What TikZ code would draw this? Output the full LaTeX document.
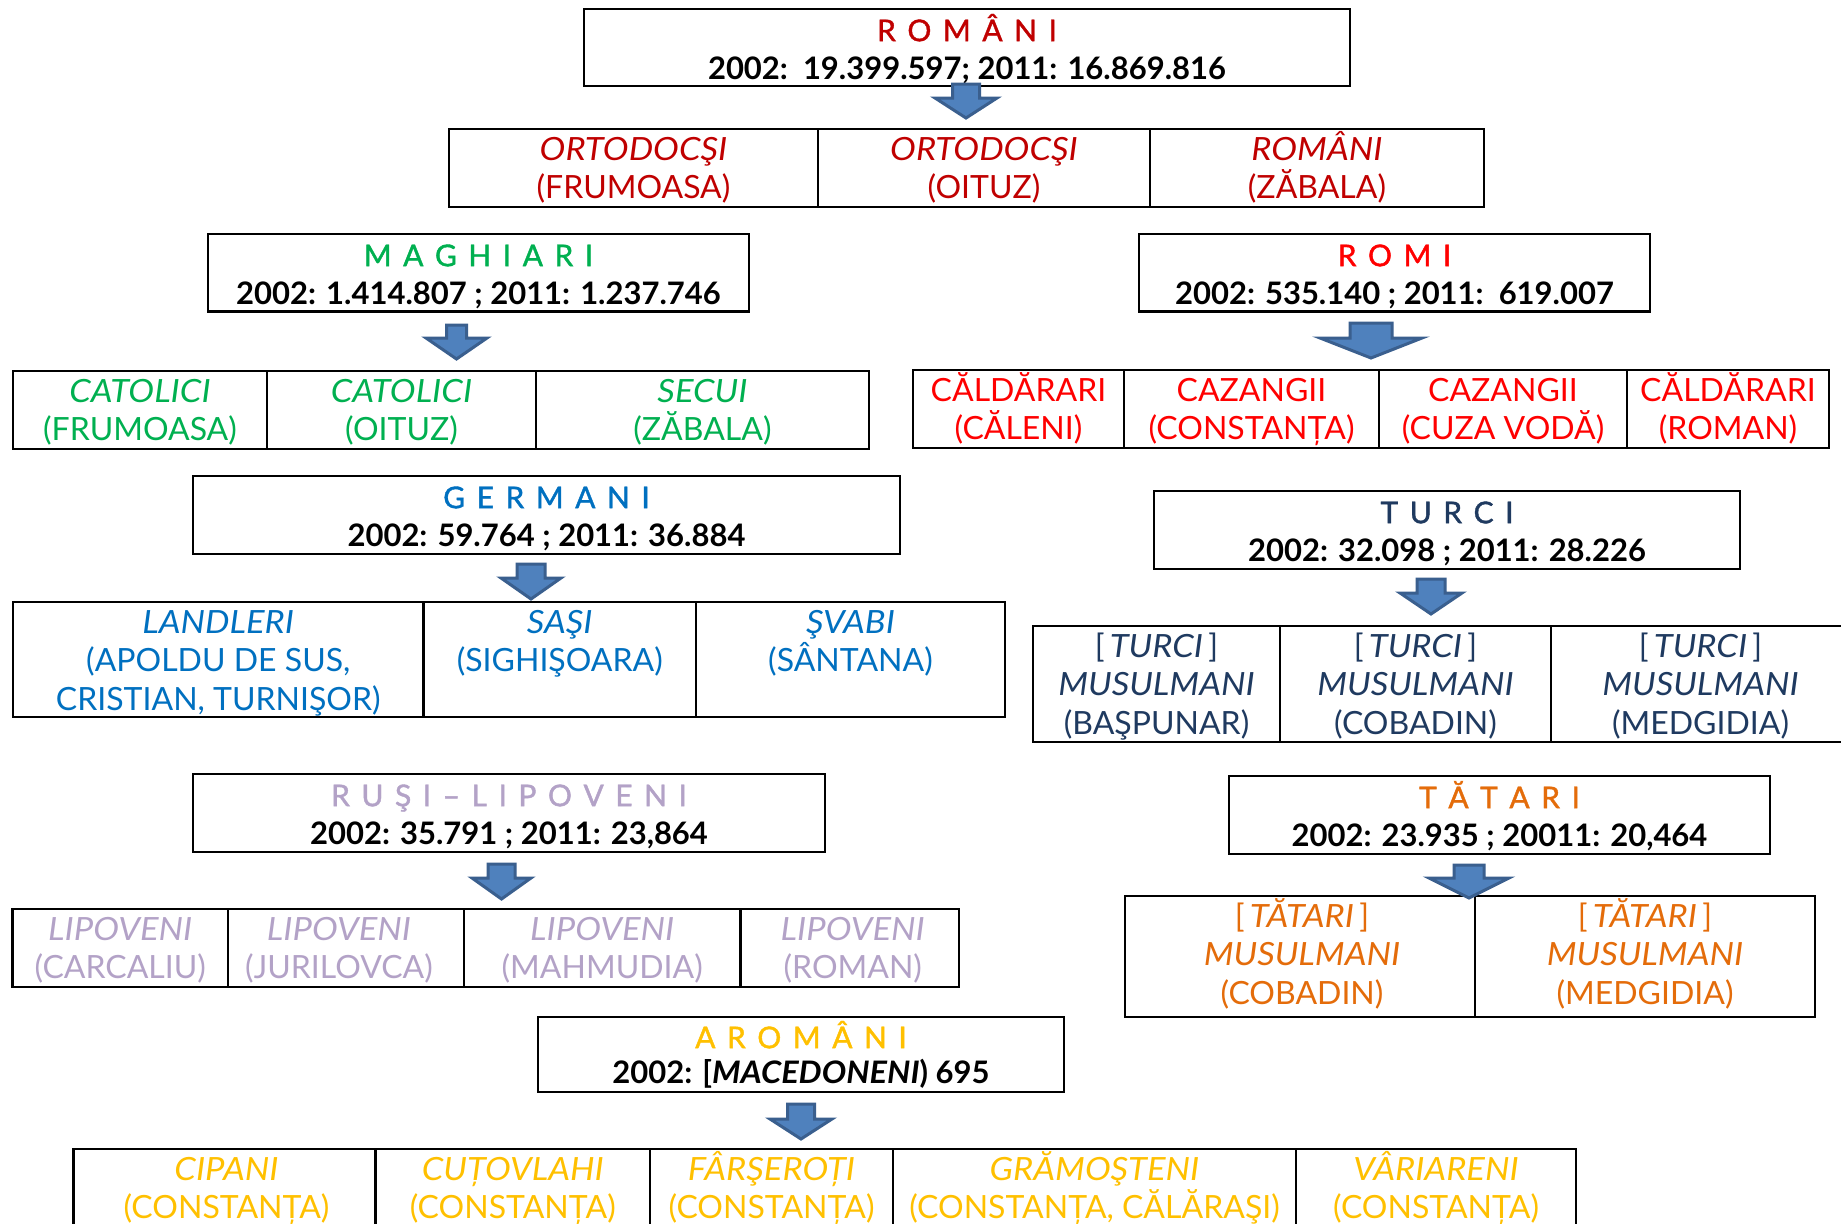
\documentclass[tikz,border=0pt]{standalone}
\usepackage{fontspec}
\setmainfont{Lato}[ItalicFeatures={FakeStretch=1.08},BoldItalicFeatures={FakeStretch=1.05}]
\newfontfamily\ttlf{Lato}[FakeBold=1.3]
\definecolor{cRo}{HTML}{C00000}
\definecolor{cMa}{HTML}{00B050}
\definecolor{cRm}{HTML}{FF0000}
\definecolor{cGe}{HTML}{0070C0}
\definecolor{cTu}{HTML}{1F3A60}
\definecolor{cRu}{HTML}{B3A2C7}
\definecolor{cTa}{HTML}{E46C0A}
\definecolor{cAr}{HTML}{FFC000}
\definecolor{arrF}{HTML}{4F81BD}
\definecolor{arrD}{HTML}{3A5F8E}
\newcommand\ls{\hspace{11.5pt}}
\newcommand\hs{\rule{0pt}{32pt}}
\newcommand\cs{\rule{0pt}{31pt}}
\newcommand\ttl{\ttlf\fontsize{30pt}{38.5pt}\selectfont}
\newcommand\num{\bfseries\fontsize{31pt}{38.5pt}\selectfont}
\newcommand\bx[5]{%
  \pgfmathsetmacro\bxw{#4-#2}\pgfmathsetmacro\bxh{#5-#3}%
  \pgfmathsetmacro\bxcx{(#2+#4)/2}\pgfmathsetmacro\bxcy{(#3+#5)/2}%
  \node[boxsty, minimum width=\bxw pt, minimum height=\bxh pt] (#1) at (\bxcx,\bxcy) {};}
\newcommand\txt[5]{%
  \node[txtsty, text=#3, xshift=#5pt] (#1) at (#2.north) {#4};}
\newcommand\barr[6]{%
  \draw[arrsty] ({#1-#6},#2) -- ({#1+#6},#2) -- ({#1+#6},#3) -- ({#1+#5},#3) -- (#1,#4) -- ({#1-#5},#3) -- ({#1-#6},#3) -- cycle;}
\begin{document}
\begin{tikzpicture}[x=1pt,y=-1pt,
  boxsty/.style={draw=black, line width=2.6pt, inner sep=0pt, outer sep=0pt},
  txtsty/.style={anchor=north, align=center, inner sep=0pt, font=\fontsize{32pt}{38.5pt}\selectfont},
  arrsty/.style={fill=arrF, draw=arrD, line width=3pt, line join=miter}]
\useasboundingbox (0,0) rectangle (1841,1223);
\fill[white] (0,0) rectangle (1841,1223);

% ROMANI
\bx{h1}{584}{9}{1350}{86}
\txt{h1t}{h1}{black}{\hs{\ttl\color{cRo}R\ls O\ls M\ls Â\ls N\ls I}\\{\num 2002:~~19.399.597; 2011: 16.869.816}}{0}
\bx{r1a}{449}{129}{818}{207}
\bx{r1b}{818}{129}{1150}{207}
\bx{r1c}{1150}{129}{1484}{207}
\txt{r1at}{r1a}{cRo}{\cs\textit{ORTODOCŞI}\\(FRUMOASA)}{0}
\txt{r1bt}{r1b}{cRo}{\cs\textit{ORTODOCŞI}\\(OITUZ)}{0}
\txt{r1ct}{r1c}{cRo}{\cs\textit{ROMÂNI}\\(ZĂBALA)}{0}

% MAGHIARI
\bx{h2}{208}{234}{749}{311.5}
\txt{h2t}{h2}{black}{\hs{\ttl\color{cMa}M\ls A\ls G\ls H\ls I\ls A\ls R\ls I}\\{\num 2002: 1.414.807 ; 2011: 1.237.746}}{0}
\bx{r2a}{13}{371}{267}{449}
\bx{r2b}{267}{371}{536}{449}
\bx{r2c}{536}{371}{869}{449}
\txt{r2at}{r2a}{cMa}{\cs\textit{CATOLICI}\\(FRUMOASA)}{0}
\txt{r2bt}{r2b}{cMa}{\cs\textit{CATOLICI}\\(OITUZ)}{0}
\txt{r2ct}{r2c}{cMa}{\cs\textit{SECUI}\\(ZĂBALA)}{0}

% ROMI
\bx{h3}{1139}{234}{1650}{311.5}
\txt{h3t}{h3}{black}{\hs{\ttl\color{cRm}R\ls O\ls M\ls I}\\{\num 2002: 535.140 ; 2011:~~619.007}}{0}
\bx{r3a}{913}{370}{1124}{448}
\bx{r3b}{1124}{370}{1379}{448}
\bx{r3c}{1379}{370}{1627}{448}
\bx{r3d}{1627}{370}{1829}{448}
\txt{r3at}{r3a}{cRm}{\cs CĂLDĂRARI\\(CĂLENI)}{0}
\txt{r3bt}{r3b}{cRm}{\cs CAZANGII\\(CONSTANȚA)}{0}
\txt{r3ct}{r3c}{cRm}{\cs CAZANGII\\(CUZA VODĂ)}{0}
\txt{r3dt}{r3d}{cRm}{\cs CĂLDĂRARI\\(ROMAN)}{0}

% GERMANI
\bx{h4}{193}{476}{900}{554}
\txt{h4t}{h4}{black}{\hs{\ttl\color{cGe}G\ls E\ls R\ls M\ls A\ls N\ls I}\\{\num 2002: 59.764 ; 2011: 36.884}}{0}
\bx{r4a}{13}{602}{423.5}{717}
\bx{r4b}{423.5}{602}{696}{717}
\bx{r4c}{696}{602}{1005}{717}
\txt{r4at}{r4a}{cGe}{\cs\textit{LANDLERI}\\(APOLDU DE SUS,\\CRISTIAN, TURNIŞOR)}{0}
\txt{r4bt}{r4b}{cGe}{\cs\textit{SAŞI}\\(SIGHIŞOARA)}{0}
\txt{r4ct}{r4c}{cGe}{\cs\textit{ŞVABI}\\(SÂNTANA)}{0}

% TURCI
\bx{h5}{1154}{491}{1740}{569}
\txt{h5t}{h5}{black}{\hs{\ttl\color{cTu}T\ls U\ls R\ls C\ls I}\\{\num 2002: 32.098 ; 2011: 28.226}}{0}
\bx{r5a}{1033}{626}{1280}{742}
\bx{r5b}{1280}{626}{1551}{742}
\bx{r5c}{1551}{626}{1850}{742}
\txt{r5at}{r5a}{cTu}{\cs[\,\textit{TURCI}\,]\\\textit{MUSULMANI}\\(BAŞPUNAR)}{0}
\txt{r5bt}{r5b}{cTu}{\cs[\,\textit{TURCI}\,]\\\textit{MUSULMANI}\\(COBADIN)}{0}
\txt{r5ct}{r5c}{cTu}{\cs[\,\textit{TURCI}\,]\\\textit{MUSULMANI}\\(MEDGIDIA)}{0}

% RUSI-LIPOVENI
\bx{h6}{193}{774}{825}{852}
\txt{h6t}{h6}{black}{\hs{\ttl\color{cRu}R\ls U\ls Ş\ls I\ls –\ls L\ls I\ls P\ls O\ls V\ls E\ls N\ls I}\\{\num 2002: 35.791 ; 2011: 23,864}}{0}
\bx{r6a}{12.5}{909}{228}{987}
\bx{r6b}{228}{909}{464}{987}
\bx{r6c}{464}{909}{740.5}{987}
\bx{r6d}{740.5}{909}{959}{987}
\txt{r6at}{r6a}{cRu}{\cs\textit{LIPOVENI}\\(CARCALIU)}{0}
\txt{r6bt}{r6b}{cRu}{\cs\textit{LIPOVENI}\\(JURILOVCA)}{-7}
\txt{r6ct}{r6c}{cRu}{\cs\textit{LIPOVENI}\\(MAHMUDIA)}{0}
\txt{r6dt}{r6d}{cRu}{\cs\textit{LIPOVENI}\\(ROMAN)}{3}

% TATARI
\bx{h7}{1229}{776}{1770}{854}
\txt{h7t}{h7}{black}{\hs{\ttl\color{cTa}T\ls Ă\ls T\ls A\ls R\ls I}\\{\num 2002: 23.935 ; 20011: 20,464}}{0}
\bx{r7a}{1125}{896}{1475}{1017}
\bx{r7b}{1475}{896}{1815}{1017}
\txt{r7at}{r7a}{cTa}{\cs[\,\textit{TĂTARI}\,]\\\textit{MUSULMANI}\\(COBADIN)}{2}
\txt{r7bt}{r7b}{cTa}{\cs[\,\textit{TĂTARI}\,]\\\textit{MUSULMANI}\\(MEDGIDIA)}{0}

% AROMANI
\bx{h8}{538}{1017}{1064}{1092}
\txt{h8t}{h8}{black}{\rule{0pt}{31pt}{\ttl\color{cAr}A\ls R\ls O\ls M\ls Â\ls N\ls I}\\[-3pt]{\num 2002: [\textit{MACEDONENI}) 695}}{0}
\bx{r8a}{73.5}{1149}{375.5}{1240}
\bx{r8b}{375.5}{1149}{650}{1240}
\bx{r8c}{650}{1149}{893}{1240}
\bx{r8d}{893}{1149}{1296}{1240}
\bx{r8e}{1296}{1149}{1576}{1240}
\txt{r8at}{r8a}{cAr}{\cs\textit{CIPANI}\\(CONSTANȚA)}{2}
\txt{r8bt}{r8b}{cAr}{\cs\textit{CUȚOVLAHI}\\(CONSTANȚA)}{0}
\txt{r8ct}{r8c}{cAr}{\cs\textit{FÂRŞEROȚI}\\(CONSTANȚA)}{0}
\txt{r8dt}{r8d}{cAr}{\cs\textit{GRĂMOŞTENI}\\(CONSTANȚA, CĂLĂRAŞI)}{0}
\txt{r8et}{r8e}{cAr}{\cs\textit{VÂRIARENI}\\(CONSTANȚA)}{0}

% block arrows
\barr{966}{84}{98}{118}{31}{13.5}
\barr{456.5}{325}{338}{359}{30.5}{10}
\barr{1371}{323}{338}{358}{51}{21}
\barr{531}{564}{578}{599}{30}{14}
\barr{1431}{579}{593}{614}{31}{14}
\barr{501.5}{864}{878}{899}{29.5}{13.5}
\barr{1469}{865}{878}{898}{40}{15}
\barr{801}{1104}{1119}{1139}{31}{13.5}
\end{tikzpicture}
\end{document}
